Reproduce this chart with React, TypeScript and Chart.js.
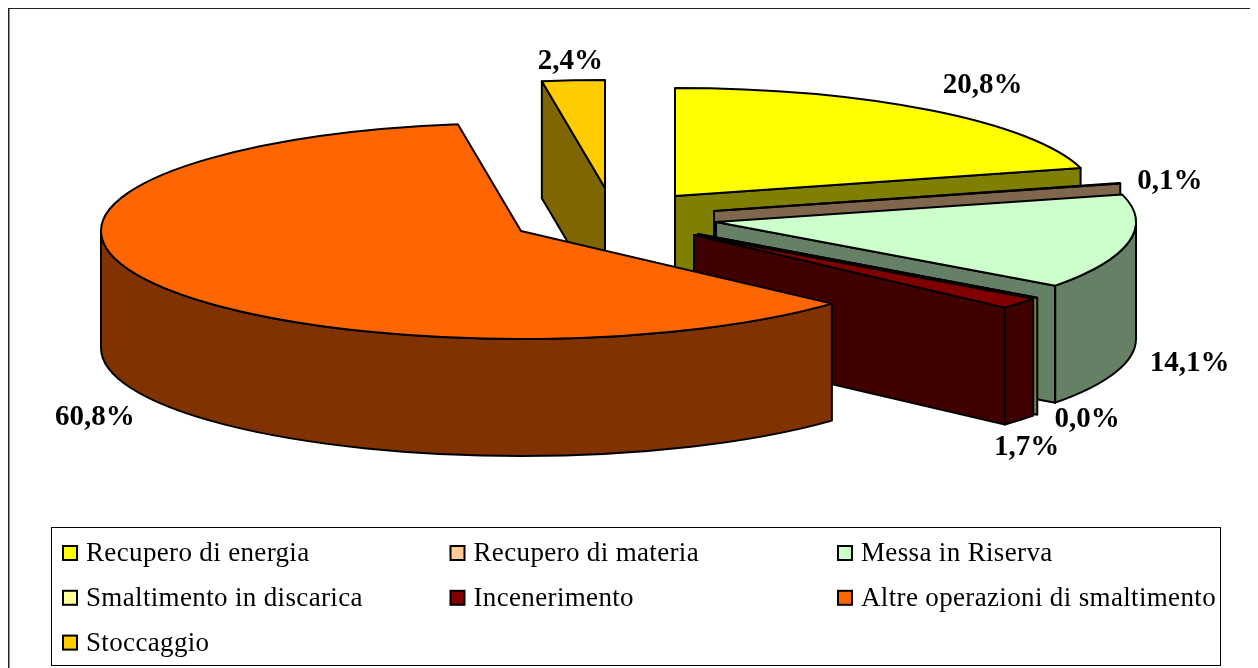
import React, { useEffect, useRef } from "react";
import { Chart, registerables } from "chart.js";

Chart.register(...registerables);

const categories = [
  "Recupero di energia",
  "Recupero di materia",
  "Messa in Riserva",
  "Smaltimento in discarica",
  "Incenerimento",
  "Altre operazioni di smaltimento",
  "Stoccaggio",
];
const shares = [20.8, 0.1, 14.1, 0.0, 1.7, 60.8, 2.4];
const colours = ["#FFFF00", "#FFCC99", "#CCFFCC", "#FFFF99", "#800000", "#FF6600", "#FFCC00"];

// layout of the 3D projection (canvas pixels, applied to what the library computes)
const RADIUS = 420;
const TILT = 108 / 420;
const DEPTH = 117;
const paintOrder = [6, 0, 1, 2, 3, 4, 5];
const explode: [number, number][] = [[65, -22], [104, -7], [106, 4], [88, 16], [84, 17], [-89, 13], [-5, -30]];
const labelNudge: [number, number][] = [[52, -25], [50, -2], [61, 121], [50, 122], [7, 144], [-56, 135], [-3, -19]];

const halfTone = (hex: string) => {
  const n = parseInt(hex.slice(1), 16);
  const h = (v: number) => Math.round(v / 2);
  return `rgb(${h((n >> 16) & 255)},${h((n >> 8) & 255)},${h(n & 255)})`;
};

const pie3d = {
  id: "pie3d",
  beforeDatasetDraw(chart: any) {
    const ctx = chart.ctx as CanvasRenderingContext2D;
    const arcs = chart.getDatasetMeta(0).data;
    const pt = (ax: number, ay: number, t: number): [number, number] => [
      ax + RADIUS * Math.cos(t),
      ay + RADIUS * TILT * Math.sin(t),
    ];
    ctx.save();
    ctx.lineWidth = 2;
    ctx.strokeStyle = "#000";
    ctx.lineJoin = "round";
    const face = (ax: number, ay: number, t: number) => {
      const p = pt(ax, ay, t);
      ctx.beginPath();
      ctx.moveTo(ax, ay);
      ctx.lineTo(p[0], p[1]);
      ctx.lineTo(p[0], p[1] + DEPTH);
      ctx.lineTo(ax, ay + DEPTH);
      ctx.closePath();
      ctx.fill();
      ctx.stroke();
    };
    for (const i of paintOrder) {
      const el = arcs[i];
      const s = el.startAngle;
      const e = el.endAngle;
      const ax = el.x + explode[i][0];
      const ay = el.y + explode[i][1];
      ctx.fillStyle = halfTone(colours[i]);
      // cut faces turned towards the viewer
      if (Math.cos(s) < -1e-6) face(ax, ay, s);
      if (Math.cos(e) > 1e-6) face(ax, ay, e);
      // outer wall, front half only
      const w0 = Math.max(s, 0);
      const w1 = Math.min(e, Math.PI);
      if (w1 > w0) {
        ctx.beginPath();
        ctx.ellipse(ax, ay, RADIUS, RADIUS * TILT, 0, w0, w1);
        ctx.ellipse(ax, ay + DEPTH, RADIUS, RADIUS * TILT, 0, w1, w0, true);
        ctx.closePath();
        ctx.fill();
        ctx.stroke();
      }
      // top face: the library's own arc in a squashed space
      ctx.save();
      ctx.translate(ax, ay);
      ctx.scale(1, TILT);
      ctx.translate(-el.x, -el.y);
      el.draw(ctx);
      ctx.restore();
      ctx.beginPath();
      ctx.moveTo(ax, ay);
      ctx.ellipse(ax, ay, RADIUS, RADIUS * TILT, 0, s, e);
      ctx.closePath();
      ctx.stroke();
    }
    // data labels
    ctx.fillStyle = "#000";
    ctx.font = 'bold 29px "Liberation Serif"';
    ctx.textAlign = "center";
    ctx.textBaseline = "middle";
    shares.forEach((v, i) => {
      const el = arcs[i];
      const p = pt(el.x + explode[i][0], el.y + explode[i][1], (el.startAngle + el.endAngle) / 2);
      ctx.fillText(`${v.toFixed(1).replace(".", ",")}%`, p[0] + labelNudge[i][0], p[1] + labelNudge[i][1]);
    });
    ctx.restore();
    return false;
  },
  afterDraw(chart: any) {
    const ctx = chart.ctx as CanvasRenderingContext2D;
    ctx.save();
    // outer frame: left and top edges are inside the window
    ctx.strokeStyle = "#222";
    ctx.lineWidth = 1.5;
    ctx.beginPath();
    ctx.moveTo(0.75, 660);
    ctx.lineTo(0.75, 0.25);
    ctx.lineTo(1250, 0.25);
    ctx.stroke();
    // legend box
    ctx.lineWidth = 1;
    ctx.strokeStyle = "#000";
    ctx.strokeRect(43.5, 519.5, 1169, 138);
    ctx.font = '27px "Liberation Serif"';
    (ctx as any).letterSpacing = "0.35px";
    ctx.textBaseline = "middle";
    ctx.textAlign = "left";
    categories.forEach((name, i) => {
      const col = i % 3;
      const row = Math.floor(i / 3);
      const x = 54 + col * 387.5;
      const y = 545 + row * 44.8;
      ctx.fillStyle = colours[i];
      ctx.lineWidth = 2;
      ctx.fillRect(x + 1, y - 7, 14, 14);
      ctx.strokeRect(x + 1, y - 7, 14, 14);
      ctx.fillStyle = "#000";
      ctx.fillText(name, x + 24, y + 1);
    });
    ctx.restore();
  },
};

export default function App() {
  const ref = useRef<HTMLCanvasElement>(null);
  useEffect(() => {
    const chart = new Chart(ref.current as HTMLCanvasElement, {
      type: "pie",
      data: {
        labels: categories,
        datasets: [{ data: shares, backgroundColor: colours, borderWidth: 0 }],
      },
      options: {
        responsive: false,
        animation: false,
        radius: RADIUS,
        layout: { padding: { left: 0, top: 0, right: 46, bottom: 240 } },
        plugins: { legend: { display: false }, tooltip: { enabled: false } },
      } as any,
      plugins: [pie3d as any],
    });
    return () => chart.destroy();
  }, []);
  return <canvas ref={ref} width={1250} height={660} style={{ display: "block" }} />;
}
